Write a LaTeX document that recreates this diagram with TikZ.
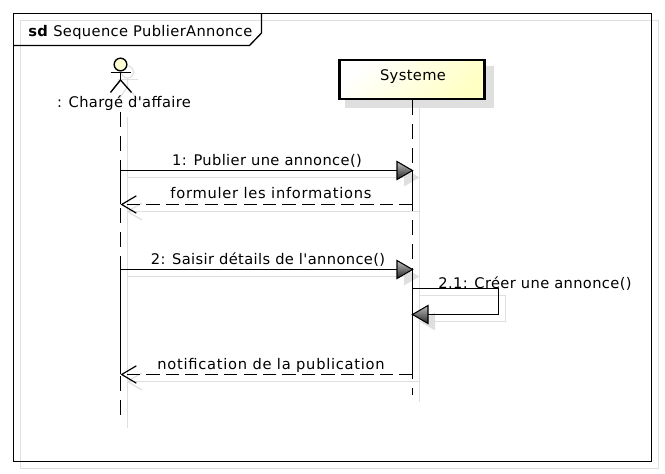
\documentclass[tikz,border=0pt]{standalone}
\usepackage{fontspec}
\newfontfamily\lbl{DejaVu Sans}[LetterSpace=2.5]
\newfontfamily\lblw{DejaVu Sans}[LetterSpace=5]
\usepackage{xcolor}
\usetikzlibrary{calc,arrows.meta,positioning}
\definecolor{shdw}{HTML}{DFDFDF}
\definecolor{lemon}{HTML}{FFFFC4}
\tikzset{
  ln/.style={line width=1pt,black},
  sh/.style={line width=0.85pt,shdw},
  lifedash/.style={ln,dash pattern=on 11.25pt off 6.75pt},
  msgdash/.style={ln,dash pattern=on 10pt off 4.6pt,dash phase=11.25pt},
  openhead/.style={{Straight Barb[length=11pt,width=13pt,line width=0.9pt]}-},
  txt/.style={font=\lbl\fontsize{11}{13}\selectfont,anchor=base,inner sep=0pt},
  txtw/.style={txt,font=\lblw\fontsize{11}{13}\selectfont},
  sysbox/.style={draw=black,line width=1.9pt,top color=white,bottom color=lemon,shading angle=45,
    minimum width=109pt,minimum height=29.5pt,inner sep=0pt},
  tri/.pic={\shadedraw[ln,line width=0.8pt,top color=black!25,bottom color=black!85] (0,0) -- (-15.5,-9) -- (-15.5,9) -- cycle;},
  trish/.pic={\fill[shdw] (0,0) -- (-15.5,-9) -- (-15.5,9) -- cycle;}
}
\begin{document}
\begin{tikzpicture}[x=0.75pt,y=-0.75pt]
\useasboundingbox (0,0) rectangle (665,474);
% shadows
\draw[sh] (20.5,20.5) rectangle (658.5,468.5);
\fill[shdw] (345,66) rectangle (494,108);
\draw[sh] (127.5,117) -- (127.5,428);
\draw[sh] (419.5,107) -- (419.5,402);
\draw[sh] (127.5,177.5) -- (419.5,177.5);
\draw[sh] (127.5,211.5) -- (419.5,211.5);
\draw[sh] (127.5,276.5) -- (419.5,276.5);
\draw[sh] (419.5,295.5) -- (505.5,295.5) -- (505.5,321.5) -- (419.5,321.5);
\draw[sh] (127.5,381.5) -- (419.5,381.5);
\foreach \y in {177.5,276.5}{ \pic at (419.5,\y) {trish}; }
\pic[xscale=-1] at (419.5,321.5) {trish};
\foreach \y in {211.5,381.5}{ \draw[sh] (142,\y-8.5) -- (127.5,\y) -- (142,\y+8.5); }
\draw[sh] (127.5,72) circle (6);
\draw[sh] (118,79.5) -- (138,79.5);
\draw[sh] (127.5,78) -- (127.5,87) (118,100) -- (127.5,87) -- (138,100);
% frame
\draw[ln] (13.5,13.5) rectangle (651.5,461.5);
\draw[ln] (13.5,45.5) -- (249.5,45.5) -- (261.5,33) -- (261.5,13.5);
\node[txt,anchor=base west] (title) at (28,37) {\textbf{sd} Sequence PublierAnnonce};
% actor
\node[circle,draw=black,line width=1.05pt,fill=lemon!70,minimum size=9.5pt,inner sep=0pt] (head) at (120.5,64.5) {};
\coordinate (hip) at (120.5,80);
\coordinate (armL) at (110.5,72.5);
\coordinate (armR) at (131,72.5);
\coordinate (legL) at (110.5,92.5);
\coordinate (legR) at (131.5,92.5);
\draw[ln] (head) -- (hip);
\draw[ln] (armL) -- (armR);
\draw[ln] (legL) -- (hip) -- (legR);
\node[txt] (actor) at (124,107.5) {: Chargé d'affaire};
% system
\node[sysbox] (sys) at (412,79.5) {};
\node[txt] (syslbl) at (413,80.5) {Systeme};
% lifelines
\coordinate (a0) at (120.5,112);
\coordinate (a9) at (120.5,415);
\coordinate (s0) at (412.5,100);
\coordinate (s9) at (412.5,395);
\foreach \n/\y in {1/170.5,2/204.5,3/269.5,6/374.5}{
 \coordinate (a\n) at (120.5,\y);
 \coordinate (s\n) at (412.5,\y);}
\coordinate (s4) at (412.5,288.5);
\coordinate (s5) at (412.5,314.5);
\coordinate (c4) at (498.5,288.5);
\coordinate (c5) at (498.5,314.5);
\draw[lifedash] (a0) -- (a9);
\draw[lifedash] (s0) -- (s9);
\draw[ln] (a1) -- (a2);
\draw[ln] (a3) -- (a6);
\draw[ln] (s1) -- (s2);
\draw[ln] (s3) -- (s6);
% messages
\draw[ln] (a1) -- (s1);
\pic at (s1) {tri};
\node[txt] (m1) at (267,166) {1: Publier une annonce()};
\draw[msgdash,openhead] (a2) -- (s2);
\node[txtw] (m2) at (271,198.5) {formuler les informations};
\draw[ln] (a3) -- (s3);
\pic at (s3) {tri};
\node[txt] (m3) at (268,265) {2: Saisir détails de l'annonce()};
\draw[ln] (s4) -- (c4) -- (c5) -- (s5);
\pic[xscale=-1] at (s5) {tri};
\node[txt] (m4) at (535,288.5) {2.1: Créer une annonce()};
\draw[msgdash,openhead] (a6) -- (s6);
\node[txtw] (m5) at (271,369) {notification de la publication};
\end{tikzpicture}
\end{document}
